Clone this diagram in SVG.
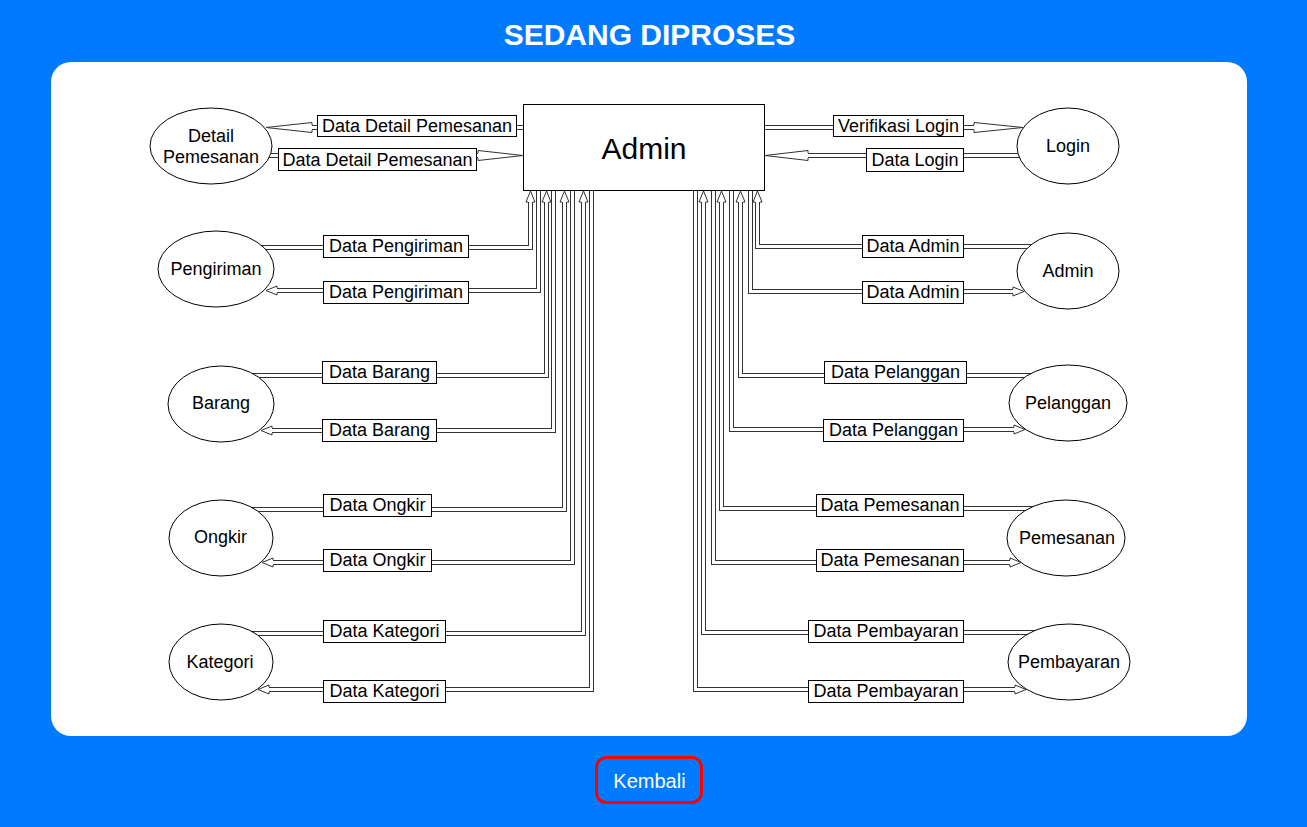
<svg xmlns="http://www.w3.org/2000/svg" width="1307" height="827" viewBox="0 0 1307 827">
<style>
text{font-family:"Liberation Sans",Arial,Helvetica,sans-serif;fill:#000}
.o{fill:none;stroke:#333;stroke-width:5}
.i{fill:none;stroke:#fff;stroke-width:3}
.ah{fill:#fff;stroke:#333;stroke-width:1}
.lb rect{fill:#fff;stroke:#000;stroke-width:1}
.lb text{font-size:18px;text-anchor:middle}
.nd ellipse{fill:#fff;stroke:#000;stroke-width:1}
.nd text{font-size:18px;text-anchor:middle}
</style>
<rect x="0" y="0" width="1307" height="827" fill="#007bff"/>
<text x="649.5" y="45" style="font-size:30px;font-weight:bold;fill:#fff;text-anchor:middle">SEDANG DIPROSES</text>
<rect x="51" y="62" width="1196" height="674" rx="20" fill="#fff"/>

<g id="connectors">
<path class="o" d="M523,127.5H312"/><path class="i" d="M523,127.5H312"/>
<polyline class="ah" points="312,125 312,122.5 266,127.5 312,132.5 312,130"/>
<path class="o" d="M255,155.5H478"/><path class="i" d="M255,155.5H478"/>
<polyline class="ah" points="478,153 478,150.5 523,155.5 478,160.5 478,158"/>
<path class="o" d="M765,127.5H974"/><path class="i" d="M765,127.5H974"/>
<polyline class="ah" points="974,125 974,122.5 1023,127.5 974,132.5 974,130"/>
<path class="o" d="M1040,155.5H808"/><path class="i" d="M1040,155.5H808"/>
<polyline class="ah" points="808,153 808,150.5 765,155.5 808,160.5 808,158"/>

<path class="o" d="M240,247.5H530.5V202"/><path class="i" d="M240,247.5H530.5V202"/>
<polyline class="ah" points="528,202 526,202 530.5,191 535,202 533,202"/>
<path class="o" d="M538.5,190V290.5H277"/><path class="i" d="M538.5,190V290.5H277"/>
<polyline class="ah" points="277,288 277,286 266,290.5 277,295 277,293"/>
<path class="o" d="M240,375.5H546.5V202"/><path class="i" d="M240,375.5H546.5V202"/>
<polyline class="ah" points="544,202 542,202 546.5,191 551,202 549,202"/>
<path class="o" d="M553.5,190V430.5H272"/><path class="i" d="M553.5,190V430.5H272"/>
<polyline class="ah" points="272,428 272,426 261,430.5 272,435 272,433"/>
<path class="o" d="M240,509.5H564.5V202"/><path class="i" d="M240,509.5H564.5V202"/>
<polyline class="ah" points="562,202 560,202 564.5,191 569,202 567,202"/>
<path class="o" d="M572.5,190V562.5H273"/><path class="i" d="M572.5,190V562.5H273"/>
<polyline class="ah" points="273,560 273,558 262,562.5 273,567 273,565"/>
<path class="o" d="M240,633.5H583.5V202"/><path class="i" d="M240,633.5H583.5V202"/>
<polyline class="ah" points="581,202 579,202 583.5,191 588,202 586,202"/>
<path class="o" d="M591.5,190V689.5H269"/><path class="i" d="M591.5,190V689.5H269"/>
<polyline class="ah" points="269,687 269,685 258,689.5 269,694 269,692"/>

<path class="o" d="M1040,246.5H757.5V202"/><path class="i" d="M1040,246.5H757.5V202"/>
<polyline class="ah" points="755,202 753,202 757.5,191 762,202 760,202"/>
<path class="o" d="M750.5,190V291.5H1013"/><path class="i" d="M750.5,190V291.5H1013"/>
<polyline class="ah" points="1013,289 1013,287 1024,291.5 1013,296 1013,294"/>
<path class="o" d="M1040,375.5H740.5V202"/><path class="i" d="M1040,375.5H740.5V202"/>
<polyline class="ah" points="738,202 736,202 740.5,191 745,202 743,202"/>
<path class="o" d="M731.5,190V429.5H1014"/><path class="i" d="M731.5,190V429.5H1014"/>
<polyline class="ah" points="1014,427 1014,425 1025,429.5 1014,434 1014,432"/>
<path class="o" d="M1040,508.5H721.5V202"/><path class="i" d="M1040,508.5H721.5V202"/>
<polyline class="ah" points="719,202 717,202 721.5,191 726,202 724,202"/>
<path class="o" d="M713.5,190V562.5H1010"/><path class="i" d="M713.5,190V562.5H1010"/>
<polyline class="ah" points="1010,560 1010,558 1021,562.5 1010,567 1010,565"/>
<path class="o" d="M1040,632.5H703.5V202"/><path class="i" d="M1040,632.5H703.5V202"/>
<polyline class="ah" points="701,202 699,202 703.5,191 708,202 706,202"/>
<path class="o" d="M695.5,190V689.5H1015"/><path class="i" d="M695.5,190V689.5H1015"/>
<polyline class="ah" points="1015,687 1015,685 1026,689.5 1015,694 1015,692"/>

<g class="lb">
<rect x="317.5" y="115.5" width="199" height="21"/><text x="417" y="132">Data Detail Pemesanan</text>
<rect x="278.5" y="148.5" width="198" height="22"/><text x="377.5" y="166">Data Detail Pemesanan</text>
<rect x="323.5" y="235.5" width="145" height="22"/><text x="396" y="252">Data Pengiriman</text>
<rect x="323.5" y="281.5" width="145" height="22"/><text x="396" y="298">Data Pengiriman</text>
<rect x="322.5" y="361.5" width="114" height="22"/><text x="379.5" y="378">Data Barang</text>
<rect x="322.5" y="419.5" width="114" height="22"/><text x="379.5" y="436">Data Barang</text>
<rect x="323.5" y="494.5" width="108" height="22"/><text x="377.5" y="511">Data Ongkir</text>
<rect x="323.5" y="549.5" width="108" height="22"/><text x="377.5" y="566">Data Ongkir</text>
<rect x="323.5" y="620.5" width="122" height="22"/><text x="384.5" y="637">Data Kategori</text>
<rect x="323.5" y="680.5" width="122" height="22"/><text x="384.5" y="697">Data Kategori</text>
<rect x="833.5" y="115.5" width="130" height="21"/><text x="898.5" y="132">Verifikasi Login</text>
<rect x="866.5" y="148.5" width="97" height="23"/><text x="915" y="166">Data Login</text>
<rect x="862.5" y="235.5" width="101" height="22"/><text x="913" y="252">Data Admin</text>
<rect x="862.5" y="281.5" width="101" height="22"/><text x="913" y="298">Data Admin</text>
<rect x="824.5" y="361.5" width="142" height="22"/><text x="895.5" y="378">Data Pelanggan</text>
<rect x="823.5" y="419.5" width="140" height="22"/><text x="893.5" y="436">Data Pelanggan</text>
<rect x="816.5" y="494.5" width="147" height="22"/><text x="890" y="511">Data Pemesanan</text>
<rect x="816.5" y="549.5" width="147" height="22"/><text x="890" y="566">Data Pemesanan</text>
<rect x="808.5" y="620.5" width="155" height="22"/><text x="886" y="637">Data Pembayaran</text>
<rect x="808.5" y="680.5" width="155" height="22"/><text x="886" y="697">Data Pembayaran</text>
</g>
</g>

<g id="admin-process" class="nd">
<rect x="523.5" y="104.5" width="241" height="86" fill="#fff" stroke="#000" stroke-width="1"/>
<text x="644" y="159" style="font-size:30px">Admin</text>
</g>
<g id="detail-pemesanan" class="nd"><ellipse cx="211" cy="146" rx="61" ry="38"/><text x="211" y="142">Detail</text><text x="211" y="163">Pemesanan</text></g>
<g id="pengiriman" class="nd"><ellipse cx="216" cy="269" rx="58" ry="38"/><text x="216" y="275">Pengiriman</text></g>
<g id="barang" class="nd"><ellipse cx="221" cy="404" rx="53" ry="38"/><text x="221" y="409">Barang</text></g>
<g id="ongkir" class="nd"><ellipse cx="221" cy="538" rx="52" ry="38"/><text x="220.5" y="543">Ongkir</text></g>
<g id="kategori" class="nd"><ellipse cx="221" cy="662" rx="52" ry="38"/><text x="220" y="668">Kategori</text></g>
<g id="login" class="nd"><ellipse cx="1068" cy="146" rx="51" ry="38"/><text x="1068" y="152">Login</text></g>
<g id="admin" class="nd"><ellipse cx="1068" cy="271" rx="51" ry="38"/><text x="1068" y="277">Admin</text></g>
<g id="pelanggan" class="nd"><ellipse cx="1068" cy="403" rx="59" ry="38"/><text x="1068" y="409">Pelanggan</text></g>
<g id="pemesanan" class="nd"><ellipse cx="1066" cy="538" rx="59" ry="38"/><text x="1067" y="544">Pemesanan</text></g>
<g id="pembayaran" class="nd"><ellipse cx="1069" cy="662" rx="61" ry="38"/><text x="1069" y="668">Pembayaran</text></g>

<g id="kembali-button">
<rect x="596.5" y="757.5" width="105" height="45" rx="10" fill="none" stroke="#f00" stroke-width="3"/>
<text x="649.5" y="788" style="font-size:20px;fill:#fff;text-anchor:middle">Kembali</text>
</g>
</svg>
